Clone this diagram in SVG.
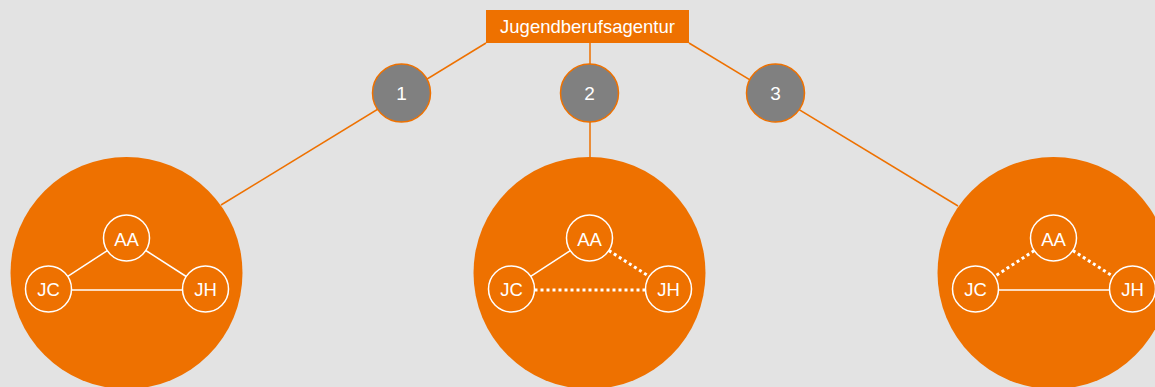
<svg xmlns="http://www.w3.org/2000/svg" width="1155" height="387" viewBox="0 0 1155 387">
<style>
.bg{fill:#e3e3e3}
.org{fill:#ee7100}
.conn{stroke:#ee7100;stroke-width:1.5;fill:none}
.num{fill:#808080;stroke:#ee7100;stroke-width:1.5}
.wt{fill:#ffffff;font-family:"Liberation Sans",Arial,sans-serif;text-anchor:middle}
.lbl{font-size:18.5px}
.small{fill:none;stroke:#ffffff;stroke-width:1.5}
.solid{stroke:#ffffff;stroke-width:1.5}
.dot{stroke:#ffffff;stroke-width:3;stroke-dasharray:3 3}
</style>
<rect class="bg" x="0" y="0" width="1155" height="387"/>
<g id="connectors">
<line class="conn" x1="486" y1="43" x2="221" y2="205"/>
<line class="conn" x1="590" y1="43" x2="590" y2="158"/>
<line class="conn" x1="689" y1="43" x2="958" y2="206"/>
</g>
<g id="jugendberufsagentur">
<rect class="org" x="486" y="10" width="203" height="33"/>
<text class="wt" x="587.5" y="33" font-size="18.5">Jugendberufsagentur</text>
</g>
<g id="step1">
<circle class="num" cx="401.5" cy="93" r="29"/>
<text class="wt" x="401.5" y="100" font-size="19">1</text>
</g>
<g id="step2">
<circle class="num" cx="589.5" cy="93" r="29"/>
<text class="wt" x="589.5" y="100" font-size="19">2</text>
</g>
<g id="step3">
<circle class="num" cx="775.5" cy="93" r="29"/>
<text class="wt" x="775.5" y="100" font-size="19">3</text>
</g>
<g id="model1" transform="translate(126.5,0)">
<circle class="org" cx="0" cy="273" r="116"/>
<line class="solid" x1="-19.2" y1="250.6" x2="-58.8" y2="276.4"/>
<line class="solid" x1="19.3" y1="250.5" x2="59.7" y2="276.5"/>
<line class="solid" x1="-55" y1="290" x2="56" y2="290"/>
<circle class="small" cx="0" cy="238" r="23"/>
<circle class="small" cx="-78" cy="289" r="23"/>
<circle class="small" cx="79" cy="289" r="23"/>
<text class="wt lbl" x="0" y="245.5">AA</text>
<text class="wt lbl" x="-78" y="296">JC</text>
<text class="wt lbl" x="79" y="296">JH</text>
</g>
<g id="model2" transform="translate(589.5,0)">
<circle class="org" cx="0" cy="273" r="116"/>
<line class="solid" x1="-19.2" y1="250.6" x2="-58.8" y2="276.4"/>
<line class="dot" x1="19.3" y1="250.5" x2="59.7" y2="276.5"/>
<line class="dot" x1="-55" y1="290" x2="56" y2="290"/>
<circle class="small" cx="0" cy="238" r="23"/>
<circle class="small" cx="-78" cy="289" r="23"/>
<circle class="small" cx="79" cy="289" r="23"/>
<text class="wt lbl" x="0" y="245.5">AA</text>
<text class="wt lbl" x="-78" y="296">JC</text>
<text class="wt lbl" x="79" y="296">JH</text>
</g>
<g id="model3" transform="translate(1053.5,0)">
<circle class="org" cx="0" cy="273" r="116"/>
<line class="dot" x1="-19.2" y1="250.6" x2="-58.8" y2="276.4"/>
<line class="dot" x1="19.3" y1="250.5" x2="59.7" y2="276.5"/>
<line class="solid" x1="-55" y1="290" x2="56" y2="290"/>
<circle class="small" cx="0" cy="238" r="23"/>
<circle class="small" cx="-78" cy="289" r="23"/>
<circle class="small" cx="79" cy="289" r="23"/>
<text class="wt lbl" x="0" y="245.5">AA</text>
<text class="wt lbl" x="-78" y="296">JC</text>
<text class="wt lbl" x="79" y="296">JH</text>
</g>
</svg>
